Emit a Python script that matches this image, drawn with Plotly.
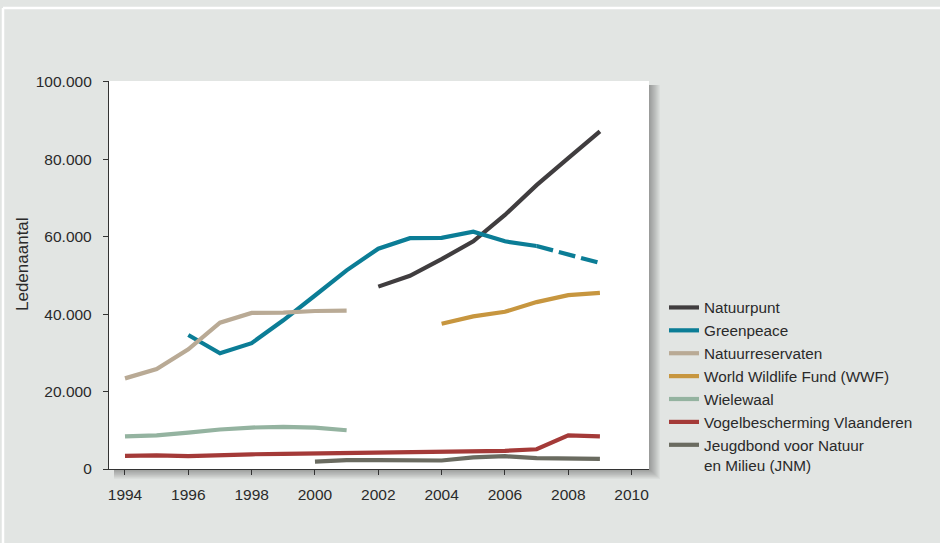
import plotly.graph_objects as go

years_natuurpunt = [2002, 2003, 2004, 2005, 2006, 2007, 2008, 2009]
natuurpunt = [47100, 49900, 54200, 58800, 65600, 73300, 80300, 87200]

years_greenpeace = [1996, 1997, 1998, 1999, 2000, 2001, 2002, 2003, 2004, 2005, 2006, 2007]
greenpeace = [34600, 29900, 32500, 38400, 44800, 51300, 56900, 59600, 59700, 61300, 58800, 57600]
years_greenpeace_est = [2007, 2008, 2009]
greenpeace_est = [57600, 55300, 53200]

years_reservaten = [1994, 1995, 1996, 1997, 1998, 1999, 2000, 2001]
reservaten = [23400, 25800, 30900, 37800, 40300, 40400, 40800, 40900]

years_wwf = [2004, 2005, 2006, 2007, 2008, 2009]
wwf = [37500, 39400, 40600, 43100, 44900, 45500]

years_wielewaal = [1994, 1995, 1996, 1997, 1998, 1999, 2000, 2001]
wielewaal = [8400, 8700, 9400, 10200, 10700, 10900, 10700, 10000]

years_vogel = [1994, 1995, 1996, 1997, 1998, 1999, 2000, 2001, 2002, 2003, 2004, 2005, 2006, 2007, 2008, 2009]
vogel = [3400, 3500, 3300, 3600, 3800, 3900, 4000, 4000, 4200, 4400, 4400, 4600, 4700, 5100, 8700, 8400]

years_jnm = [2000, 2001, 2002, 2003, 2004, 2005, 2006, 2007, 2008, 2009]
jnm = [1900, 2300, 2300, 2300, 2200, 3000, 3300, 2800, 2700, 2600]

x_ticks = [1994, 1996, 1998, 2000, 2002, 2004, 2006, 2008, 2010]
y_ticks = [0, 20000, 40000, 60000, 80000, 100000]

names = ["Natuurpunt", "Greenpeace", "Natuurreservaten", "World Wildlife Fund (WWF)",
         "Wielewaal", "Vogelbescherming Vlaanderen", "Jeugdbond voor Natuur<br>en Milieu (JNM)"]
colors = ["#403d3f", "#0b7d96", "#b9aa95", "#c7963f", "#94b3a0", "#a43a38", "#6a6b60"]

FONT = "Liberation Sans, Arial, sans-serif"
TXT = "#2a2a2a"
LW = 4.2

fig = go.Figure()
series = [
    (years_natuurpunt, natuurpunt),
    (years_greenpeace, greenpeace),
    (years_reservaten, reservaten),
    (years_wwf, wwf),
    (years_wielewaal, wielewaal),
    (years_vogel, vogel),
    (years_jnm, jnm),
]
for i, (xs, ys) in enumerate(series):
    fig.add_trace(go.Scatter(x=xs, y=ys, mode="lines", name=names[i],
                             legendgroup=names[i],
                             line=dict(color=colors[i], width=LW)))
    if i == 1:
        fig.add_trace(go.Scatter(x=years_greenpeace_est, y=greenpeace_est, mode="lines",
                                 name=names[1], legendgroup=names[1], showlegend=False,
                                 line=dict(color=colors[1], width=LW, dash="17px,6px")))

# layout geometry (pixels)
L, R, T, B = 109, 291, 81, 74
W = 940 - L - R
H = 543 - T - B


def px(dx):
    return dx / W


def py(dy):
    return dy / H


shapes = []
# drop shadow
for i in range(1, 12):
    shapes.append(dict(type="rect", xref="paper", yref="paper", layer="below",
                       x0=px(5), x1=1 + px(i), y0=-py(i * 0.9), y1=1 - py(4),
                       line=dict(width=0), fillcolor="rgba(0,0,0,0.03)"))
# white plot area
shapes.append(dict(type="rect", xref="paper", yref="paper", layer="below",
                   x0=0, x1=1, y0=0, y1=1, line=dict(width=0), fillcolor="white"))
# white frame lines of the panel
fx = px(3 - L)
fy = 1 + py(T - 8)
shapes.append(dict(type="line", xref="paper", yref="paper", layer="below",
                   x0=fx, x1=px(950 - L), y0=fy, y1=fy, line=dict(color="white", width=2.5)))
shapes.append(dict(type="line", xref="paper", yref="paper", layer="below",
                   x0=fx, x1=fx, y0=fy, y1=-py(B + 10), line=dict(color="white", width=2.5)))

fig.update_layout(
    width=940, height=543,
    margin=dict(l=L, r=R, t=T, b=B, pad=0),
    paper_bgcolor="#e2e5e3",
    plot_bgcolor="rgba(0,0,0,0)",
    separators=",.",
    font=dict(family=FONT, size=15.5, color=TXT),
    showlegend=True,
    legend=dict(xref="container", yref="container", x=664 / 940, y=1 - 291 / 543,
                xanchor="left", yanchor="top", bgcolor="rgba(0,0,0,0)",
                font=dict(family=FONT, size=15.3, color=TXT), valign="top",
                tracegroupgap=0, traceorder="normal"),
    shapes=shapes,
    xaxis=dict(range=[1993.495, 2010.55], tickvals=x_ticks, ticks="outside", ticklen=5,
               tickwidth=1.3, tickcolor="#333", showline=True, linecolor="#333", linewidth=1.3,
               showgrid=False, zeroline=False, ticklabelstandoff=6,
               tickfont=dict(family=FONT, size=15.5, color=TXT)),
    yaxis=dict(range=[0, 100200], tickvals=y_ticks, tickformat=",d", ticks="outside", ticklen=5,
               tickwidth=1.3, tickcolor="#333", showline=True, linecolor="#333", linewidth=1.3,
               showgrid=False, zeroline=False, ticklabelstandoff=8,
               tickfont=dict(family=FONT, size=15.5, color=TXT)),
    annotations=[dict(text="Ledenaantal", xref="paper", yref="paper", x=px(22 - L), y=py(469 - 264),
                      textangle=-90, showarrow=False, xanchor="center", yanchor="middle",
                      font=dict(family=FONT, size=17, color=TXT))],
)

fig.write_html("out.html")
